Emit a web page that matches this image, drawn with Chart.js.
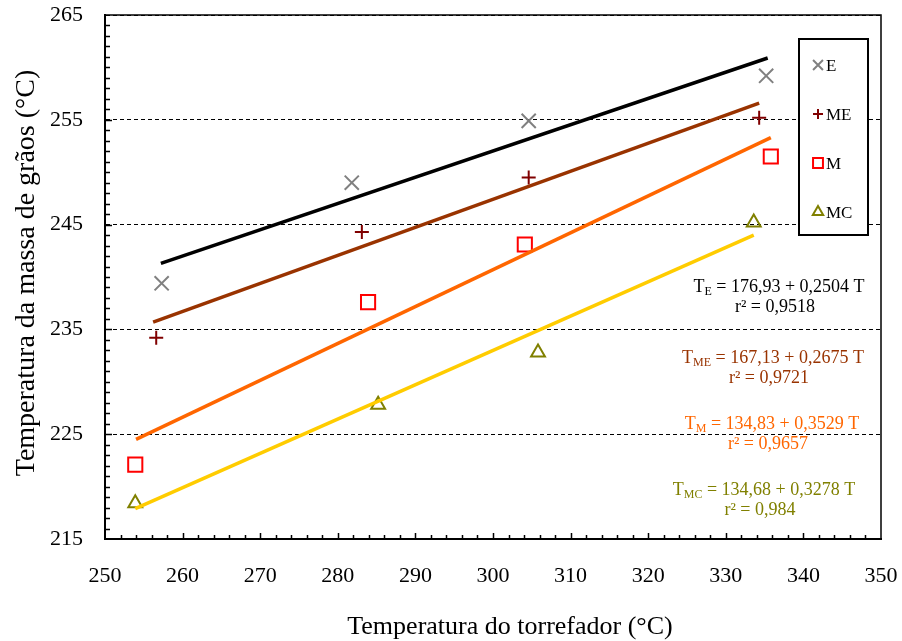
<!DOCTYPE html>
<html>
<head>
<meta charset="utf-8">
<script src="https://cdn.jsdelivr.net/npm/chart.js@4/dist/chart.umd.min.js"></script>
<style>
  html, body { margin: 0; padding: 0; background: #fff; }
  #wrap { width: 902px; height: 641px; }
</style>
</head>
<body>
<div id="wrap"><canvas id="torraChart" width="902" height="641"></canvas></div>
<script>
// observed points (temperatura do torrefador, temperatura da massa)
var xE = [257.3, 281.8, 304.6, 335.2];
var yE = [239.4, 249.0, 254.9, 259.2];
var xME = [256.6, 283.1, 304.6, 334.3];
var yME = [234.2, 244.3, 249.5, 255.2];
var xM = [253.9, 283.9, 304.1, 335.8];
var yM = [222.1, 237.6, 243.1, 251.5];
var xMC = [253.9, 285.2, 305.8, 333.6];
var yMC = [218.4, 227.8, 232.8, 245.2];

// regression lines, end points
var lxE = [257.2, 335.4], lyE = [241.3, 260.9];
var lxME = [256.2, 334.3], lyME = [235.7, 256.6];
var lxM = [254.0, 335.8], lyM = [224.5, 253.3];
var lxMC = [253.9, 333.6], lyMC = [217.9, 244.0];

var serieNames = ['E', 'ME', 'M', 'MC'];
var equations = [
  ['T', 'E', ' = 176,93 + 0,2504 T', 'r\u00B2 = 0,9518'],
  ['T', 'ME', ' = 167,13 + 0,2675 T', 'r\u00B2 = 0,9721'],
  ['T', 'M', ' = 134,83 + 0,3529 T', 'r\u00B2 = 0,9657'],
  ['T', 'MC', ' = 134,68 + 0,3278 T', 'r\u00B2 = 0,984']
];

var xMin = 250, xMax = 350, xStep = 10;
var yMin = 215, yMax = 265, yStep = 10;

var serif = '"Liberation Serif", "Times New Roman", serif';

function pts(xs, ys) {
  return xs.map(function(x, i) { return {x: x, y: ys[i]}; });
}

var lineColors = ['#000000', '#993300', '#FF6600', '#FFCC00'];
var markColors = ['#808080', '#800000', '#FF0000', '#808000'];
var textColors = ['#000000', '#993300', '#FF6600', '#808000'];
var markStyles = ['crossRot', 'cross', 'rect', 'triangle'];
var markRadius = [10, 7, 10, 8];

var lineX = [lxE, lxME, lxM, lxMC], lineY = [lyE, lyME, lyM, lyMC];
var ptX = [xE, xME, xM, xMC], ptY = [yE, yME, yM, yMC];

var datasets = [];
for (var i = 0; i < 4; i++) {
  datasets.push({
    label: serieNames[i] + ' ajuste',
    data: pts(lineX[i], lineY[i]),
    showLine: true,
    borderColor: lineColors[i],
    borderWidth: 3.5,
    pointRadius: 0,
    fill: false
  });
}
for (var i = 0; i < 4; i++) {
  datasets.push({
    label: serieNames[i],
    data: pts(ptX[i], ptY[i]),
    showLine: false,
    pointStyle: markStyles[i],
    pointRadius: markRadius[i],
    pointBorderColor: markColors[i],
    pointBackgroundColor: 'rgba(0,0,0,0)',
    pointBorderWidth: 2
  });
}

// inner minor ticks, frame, titles, legend box and equations
var extras = {
  id: 'extras',
  afterDraw: function(chart) {
    var ctx = chart.ctx, a = chart.chartArea;
    var sx = chart.scales.x, sy = chart.scales.y;
    ctx.save();

    // frame top / right
    ctx.strokeStyle = '#000';
    ctx.lineWidth = 1.5;
    ctx.beginPath();
    ctx.moveTo(a.left, a.top);
    ctx.lineTo(a.right, a.top);
    ctx.lineTo(a.right, a.bottom);
    ctx.stroke();

    // inward ticks
    ctx.lineWidth = 1.5;
    ctx.beginPath();
    for (var v = yMin + 1; v < yMax; v++) {
      var py = Math.round(sy.getPixelForValue(v)) + 0.5;
      ctx.moveTo(a.left, py);
      ctx.lineTo(a.left + (v % 10 === 5 ? 7 : 5), py);
    }
    for (var v = xMin + 2; v < xMax; v += 2) {
      var px = Math.round(sx.getPixelForValue(v)) + 0.5;
      ctx.moveTo(px, a.bottom);
      ctx.lineTo(px, a.bottom - (v % 10 === 0 ? 6 : 4));
    }
    ctx.stroke();

    // axis titles
    ctx.fillStyle = '#000';
    ctx.font = '26px ' + serif;
    ctx.textAlign = 'center';
    ctx.textBaseline = 'middle';
    ctx.fillText('Temperatura do torrefador (\u00B0C)', 510, 627);
    ctx.save();
    ctx.translate(27, 273);
    ctx.rotate(-Math.PI / 2);
    ctx.font = '28px ' + serif;
    ctx.fillText('Temperatura da massa de gr\u00E3os (\u00B0C)', 0, 0);
    ctx.restore();

    // legend box
    ctx.fillStyle = '#fff';
    ctx.fillRect(799, 39, 69, 196);
    ctx.strokeStyle = '#000';
    ctx.lineWidth = 2;
    ctx.strokeRect(799, 39, 69, 196);
    var legY = [65, 114, 163, 212];
    var legR = [7, 5, 7, 6];
    for (var i = 0; i < 4; i++) {
      ctx.strokeStyle = markColors[i];
      ctx.fillStyle = 'rgba(0,0,0,0)';
      ctx.lineWidth = 2;
      Chart.helpers.drawPoint(ctx, {pointStyle: markStyles[i], radius: legR[i], rotation: 0, borderWidth: 2}, 818, legY[i]);
      ctx.fillStyle = '#000';
      ctx.font = '17px ' + serif;
      ctx.textAlign = 'left';
      ctx.textBaseline = 'middle';
      ctx.fillText(serieNames[i], 826, legY[i] + 2);
    }

    // equations
    var eqX = [779, 773, 772, 764];
    var eqY = [287, 358, 424, 490];
    for (var i = 0; i < 4; i++) {
      var e = equations[i];
      ctx.fillStyle = textColors[i];
      ctx.textBaseline = 'middle';
      ctx.font = '18px ' + serif;
      var w1 = ctx.measureText(e[0]).width;
      var w3 = ctx.measureText(e[2]).width;
      ctx.font = '12px ' + serif;
      var w2 = ctx.measureText(e[1]).width;
      var x0 = eqX[i] - (w1 + w2 + w3) / 2;
      ctx.textAlign = 'left';
      ctx.font = '18px ' + serif;
      ctx.fillText(e[0], x0, eqY[i]);
      ctx.fillText(e[2], x0 + w1 + w2, eqY[i]);
      ctx.font = '12px ' + serif;
      ctx.fillText(e[1], x0 + w1, eqY[i] + 5);
      ctx.font = '18px ' + serif;
      ctx.textAlign = 'center';
      ctx.fillText(e[3], eqX[i] - 4, eqY[i] + 20);
    }
    ctx.restore();
  }
};

var torrachart = document.getElementById('torraChart');

let torraChart = new Chart(torrachart, {
  type: 'scatter',
  data: { datasets: datasets },
  options: {
    responsive: false,
    animation: false,
    layout: { padding: { left: 0, right: 21, top: 15, bottom: 0 } },
    plugins: {
      legend: { display: false },
      tooltip: { enabled: false }
    },
    scales: {
      x: {
        type: 'linear',
        min: xMin,
        max: xMax,
        afterFit: function(s) { s.height = 102; s.paddingLeft = 0; s.paddingRight = 0; },
        ticks: {
          stepSize: xStep,
          color: '#000',
          padding: 24,
          maxRotation: 0,
          font: { family: serif, size: 22 }
        },
        grid: { display: false, drawTicks: false },
        border: { display: true, color: '#000', width: 2 }
      },
      y: {
        type: 'linear',
        min: yMin,
        max: yMax,
        afterFit: function(s) { s.width = 105; s.paddingTop = 0; s.paddingBottom = 0; },
        ticks: {
          stepSize: yStep,
          color: '#000',
          padding: 22,
          font: { family: serif, size: 22 }
        },
        grid: { display: true, drawTicks: false, color: '#000', lineWidth: 1 },
        border: { display: true, color: '#000', width: 2, dash: [4, 3] }
      }
    }
  },
  plugins: [extras]
});
</script>
</body>
</html>
